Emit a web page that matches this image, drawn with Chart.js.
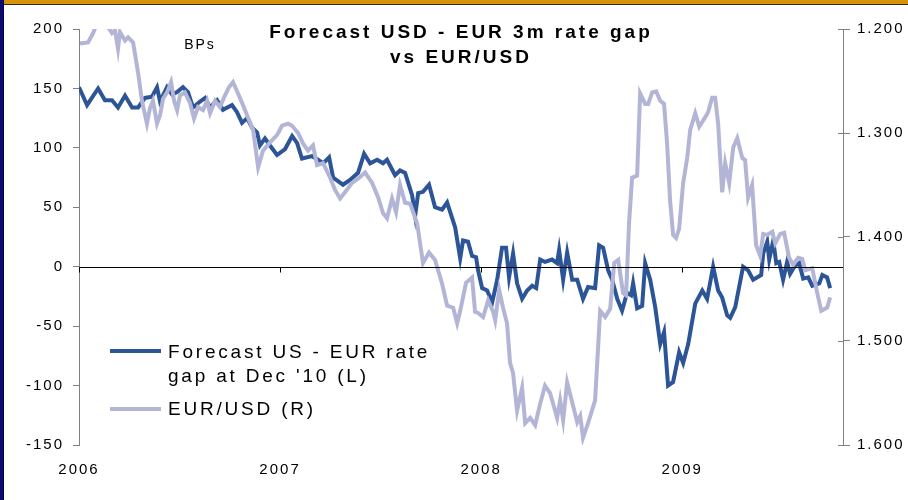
<!DOCTYPE html>
<html>
<head>
<meta charset="utf-8">
<script src="https://cdn.jsdelivr.net/npm/chart.js@4/dist/chart.umd.min.js"></script>
<style>
  html, body { margin: 0; padding: 0; background: #fff; }
  #wrap { position: relative; width: 908px; height: 500px; overflow: hidden; }
  #topbar { position: absolute; left: 0; top: 0; width: 908px; height: 4px; background: #D8920E; border-bottom: 1px solid #3a2a10; }
  #leftbar { position: absolute; left: 0; top: 0; width: 3px; height: 500px; background: #0B0B78; border-right: 1px solid #05053a; }
</style>
</head>
<body>
<div id="wrap">
  <canvas id="chart" width="908" height="500"></canvas>
  <div id="topbar"></div>
  <div id="leftbar"></div>
</div>
<script>
// forecast US - EUR rate gap at Dec '10, bps (left axis)
const gapDates = [2006.000, 2006.040, 2006.095, 2006.129, 2006.164, 2006.194, 2006.229, 2006.264, 2006.294, 2006.328,
  2006.363, 2006.388, 2006.403, 2006.438, 2006.463, 2006.488, 2006.517, 2006.542, 2006.567, 2006.602,
  2006.627, 2006.652, 2006.687, 2006.716, 2006.761, 2006.786, 2006.811, 2006.836, 2006.861, 2006.886,
  2006.900, 2006.925, 2006.950, 2006.985, 2007.025, 2007.060, 2007.085, 2007.109, 2007.159, 2007.189,
  2007.214, 2007.244, 2007.264, 2007.313, 2007.348, 2007.388, 2007.418, 2007.448, 2007.483, 2007.512,
  2007.532, 2007.572, 2007.597, 2007.622, 2007.657, 2007.672, 2007.687, 2007.711, 2007.741, 2007.771,
  2007.806, 2007.831, 2007.871, 2007.896, 2007.910, 2007.935, 2007.955, 2007.975, 2007.985, 2008.005,
  2008.030, 2008.055, 2008.080, 2008.104, 2008.124, 2008.139, 2008.159, 2008.179, 2008.204, 2008.229,
  2008.254, 2008.274, 2008.294, 2008.318, 2008.353, 2008.378, 2008.388, 2008.408, 2008.428, 2008.453,
  2008.478, 2008.507, 2008.532, 2008.567, 2008.587, 2008.607, 2008.632, 2008.652, 2008.677, 2008.701,
  2008.726, 2008.746, 2008.756, 2008.776, 2008.801, 2008.816, 2008.841, 2008.866, 2008.891, 2008.910,
  2008.930, 2008.955, 2008.985, 2009.005, 2009.030, 2009.065, 2009.100, 2009.124, 2009.154, 2009.179,
  2009.199, 2009.224, 2009.239, 2009.264, 2009.303, 2009.328, 2009.353, 2009.393, 2009.403, 2009.423,
  2009.433, 2009.453, 2009.468, 2009.483, 2009.502, 2009.522, 2009.537, 2009.562, 2009.582, 2009.602,
  2009.627, 2009.647, 2009.682, 2009.697, 2009.721, 2009.736];
const gapValues = [151, 136, 150, 140, 140, 134, 144, 134, 134, 142,
  143, 151, 139, 151, 145, 147, 151, 147, 134, 139,
  142, 134, 140, 132, 136, 130, 121, 125, 117, 113,
  102, 108, 102, 94, 99, 110, 104, 91, 93, 90,
  87, 92, 75, 69, 73, 79, 95, 87, 90, 87,
  90, 77, 81, 79, 60, 43, 62, 63, 69, 50,
  48, 54, 33, 7, 22, 21, 9, 8, -3, -18,
  -20, -30, -11, 16, 16, -9, 11, -14, -27, -20,
  -16, -18, 6, 4, 6, 3, 14, -11, 12, -11,
  -11, -27, -17, -18, 18, 16, -3, -11, -27, -37,
  -22, -24, -14, -35, -33, 3, -11, -34, -65, -55,
  -100, -97, -72, -81, -65, -31, -20, -27, 0, -20,
  -26, -41, -43, -34, 0, -3, -11, -7, 11, 21,
  6, 22, 3, 4, -11, 4, -6, 1, 3, -10,
  -9, -16, -14, -7, -9, -18];

// EUR/USD (right axis, inverted)
const fxDates = [2006.005, 2006.045, 2006.070, 2006.095, 2006.119, 2006.144, 2006.164, 2006.179, 2006.194, 2006.204,
  2006.229, 2006.244, 2006.269, 2006.294, 2006.313, 2006.338, 2006.353, 2006.368, 2006.388, 2006.403,
  2006.418, 2006.438, 2006.458, 2006.473, 2006.488, 2006.502, 2006.527, 2006.552, 2006.572, 2006.592,
  2006.617, 2006.637, 2006.652, 2006.677, 2006.701, 2006.721, 2006.746, 2006.766, 2006.791, 2006.811,
  2006.836, 2006.866, 2006.891, 2006.915, 2006.950, 2006.985, 2007.010, 2007.040, 2007.060, 2007.090,
  2007.114, 2007.139, 2007.164, 2007.184, 2007.214, 2007.249, 2007.274, 2007.299, 2007.323, 2007.358,
  2007.388, 2007.423, 2007.458, 2007.488, 2007.512, 2007.532, 2007.557, 2007.577, 2007.597, 2007.622,
  2007.647, 2007.682, 2007.711, 2007.741, 2007.771, 2007.806, 2007.831, 2007.861, 2007.881, 2007.896,
  2007.925, 2007.955, 2007.970, 2007.985, 2008.010, 2008.035, 2008.060, 2008.070, 2008.090, 2008.109,
  2008.129, 2008.144, 2008.159, 2008.179, 2008.204, 2008.219, 2008.244, 2008.269, 2008.294, 2008.318,
  2008.343, 2008.378, 2008.393, 2008.408, 2008.428, 2008.453, 2008.478, 2008.493, 2008.507, 2008.532,
  2008.567, 2008.592, 2008.617, 2008.642, 2008.662, 2008.682, 2008.706, 2008.721, 2008.736, 2008.751,
  2008.776, 2008.791, 2008.816, 2008.831, 2008.851, 2008.871, 2008.891, 2008.910, 2008.925, 2008.940,
  2008.955, 2008.970, 2008.985, 2009.005, 2009.025, 2009.040, 2009.065, 2009.085, 2009.114, 2009.129,
  2009.149, 2009.164, 2009.179, 2009.199, 2009.214, 2009.234, 2009.254, 2009.274, 2009.299, 2009.313,
  2009.328, 2009.348, 2009.368, 2009.388, 2009.403, 2009.423, 2009.448, 2009.463, 2009.488, 2009.507,
  2009.532, 2009.552, 2009.577, 2009.597, 2009.612, 2009.647, 2009.672, 2009.692, 2009.721, 2009.736];
const fxValues = [1.214, 1.213, 1.204, 1.192, 1.187, 1.198, 1.204, 1.201, 1.219, 1.203,
  1.211, 1.208, 1.213, 1.242, 1.269, 1.291, 1.276, 1.269, 1.291, 1.283,
  1.267, 1.261, 1.251, 1.269, 1.278, 1.264, 1.261, 1.271, 1.286, 1.275,
  1.278, 1.269, 1.281, 1.269, 1.275, 1.266, 1.256, 1.251, 1.262, 1.271,
  1.283, 1.297, 1.333, 1.317, 1.309, 1.302, 1.293, 1.291, 1.293, 1.300,
  1.310, 1.317, 1.312, 1.331, 1.329, 1.343, 1.355, 1.363, 1.357, 1.348,
  1.344, 1.338, 1.348, 1.362, 1.377, 1.382, 1.363, 1.376, 1.350, 1.367,
  1.368, 1.387, 1.425, 1.415, 1.422, 1.445, 1.466, 1.468, 1.483, 1.471,
  1.444, 1.439, 1.472, 1.473, 1.477, 1.461, 1.472, 1.480, 1.451, 1.468,
  1.483, 1.521, 1.531, 1.567, 1.545, 1.579, 1.574, 1.581, 1.560, 1.543,
  1.550, 1.574, 1.557, 1.576, 1.540, 1.559, 1.578, 1.572, 1.593, 1.579,
  1.557, 1.471, 1.477, 1.469, 1.425, 1.422, 1.454, 1.456, 1.386, 1.343,
  1.341, 1.262, 1.272, 1.272, 1.261, 1.260, 1.269, 1.272, 1.310, 1.365,
  1.398, 1.401, 1.392, 1.348, 1.324, 1.297, 1.281, 1.294, 1.285, 1.280,
  1.266, 1.266, 1.291, 1.357, 1.329, 1.348, 1.314, 1.305, 1.324, 1.326,
  1.362, 1.350, 1.408, 1.418, 1.397, 1.398, 1.395, 1.406, 1.397, 1.396,
  1.420, 1.427, 1.420, 1.421, 1.432, 1.430, 1.454, 1.471, 1.468, 1.458];

const yearTicks = [2006, 2007, 2008, 2009];
const leftTicks = [200, 150, 100, 50, 0, -50, -100, -150];
const rightTicks = [1.2, 1.3, 1.4, 1.5, 1.6];

const darkBlue = "#2C5598";
const lilac = "#B3B5D6";
const axisGrey = "#808080";
const font = "'Liberation Sans', Arial, sans-serif";

// left scale: 200 at top, -150 at bottom; right scale inverted 1.2 .. 1.6
const overlay = {
  id: "overlay",
  beforeDraw(chart) {
    chart.ctx.letterSpacing = "2px";
  },
  afterDatasetsDraw(chart) {
    const { ctx, chartArea, scales } = chart;
    ctx.save();
    // zero line with year marks
    const y0 = Math.round(scales.y.getPixelForValue(0)) + 0.5;
    ctx.strokeStyle = "#000";
    ctx.lineWidth = 1;
    ctx.beginPath();
    ctx.moveTo(chartArea.left, y0);
    ctx.lineTo(chartArea.right, y0);
    yearTicks.forEach((yr) => {
      const x = Math.round(scales.x.getPixelForValue(yr)) + 0.5;
      ctx.moveTo(x, y0);
      ctx.lineTo(x, y0 + 5);
    });
    ctx.stroke();
    // inner half of the right axis ticks
    ctx.strokeStyle = axisGrey;
    ctx.beginPath();
    rightTicks.forEach((v) => {
      const y = Math.round(scales.y1.getPixelForValue(v)) + 0.5;
      ctx.moveTo(chartArea.right - 5, y);
      ctx.lineTo(chartArea.right, y);
    });
    ctx.stroke();

    // title
    ctx.fillStyle = "#000";
    ctx.textAlign = "center";
    ctx.textBaseline = "middle";
    ctx.font = "bold 19px " + font;
    ctx.letterSpacing = "3px";
    ctx.fillText("Forecast USD - EUR 3m rate gap", 461, 33);
    ctx.fillText("vs EUR/USD", 461, 58);

    ctx.font = "14px " + font;
    ctx.letterSpacing = "2px";
    ctx.fillText("BPs", 200, 45);

    // legend
    ctx.textAlign = "left";
    ctx.font = "19px " + font;
    ctx.letterSpacing = "2.8px";
    ctx.lineWidth = 4;
    ctx.strokeStyle = darkBlue;
    ctx.beginPath();
    ctx.moveTo(110, 351);
    ctx.lineTo(161, 351);
    ctx.stroke();
    ctx.strokeStyle = lilac;
    ctx.beginPath();
    ctx.moveTo(110, 409);
    ctx.lineTo(161, 409);
    ctx.stroke();
    ctx.fillText("Forecast US - EUR rate", 168, 353);
    ctx.fillText("gap at Dec '10 (L)", 168, 377);
    ctx.fillText("EUR/USD (R)", 168, 410);
    ctx.restore();
  },
};

new Chart(document.getElementById("chart"), {
  type: "line",
  data: {
    datasets: [
      {
        label: "EUR/USD (R)",
        data: fxDates.map((d, i) => ({ x: d, y: fxValues[i] })),
        yAxisID: "y1",
        borderColor: lilac,
        borderWidth: 4,
        pointRadius: 0,
        tension: 0,
      },
      {
        label: "Forecast US - EUR rate gap at Dec '10 (L)",
        data: gapDates.map((d, i) => ({ x: d, y: gapValues[i] })),
        yAxisID: "y",
        borderColor: darkBlue,
        borderWidth: 4,
        pointRadius: 0,
        tension: 0,
      },
    ],
  },
  options: {
    responsive: false,
    animation: false,
    layout: { padding: { top: 29, left: 0, right: 0, bottom: 0 } },
    plugins: { legend: { display: false }, title: { display: false }, tooltip: { enabled: false } },
    scales: {
      x: {
        type: "linear",
        min: 2006,
        max: 2009.8,
        grid: { display: false, drawTicks: false },
        border: { display: false },
        afterBuildTicks: (s) => { s.ticks = yearTicks.map((v) => ({ value: v })); },
        ticks: {
          padding: 16,
          color: "#000",
          font: { family: font, size: 15 },
          callback: (v) => String(v),
        },
        afterFit: (s) => { s.height = 55; },
      },
      y: {
        position: "left",
        min: -150,
        max: 200,
        afterBuildTicks: (s) => { s.ticks = leftTicks.map((v) => ({ value: v })); },
        grid: { drawOnChartArea: false, drawTicks: true, tickLength: 6, color: axisGrey },
        border: { color: axisGrey },
        ticks: { padding: 9, color: "#000", font: { family: font, size: 15 } },
        afterFit: (s) => { s.width = 79; },
      },
      y1: {
        position: "right",
        reverse: true,
        min: 1.2,
        max: 1.6,
        afterBuildTicks: (s) => { s.ticks = rightTicks.map((v) => ({ value: v })); },
        grid: { drawOnChartArea: false, drawTicks: true, tickLength: 7, color: axisGrey },
        border: { color: axisGrey },
        ticks: {
          padding: 7,
          color: "#000",
          font: { family: font, size: 15 },
          callback: (v) => v.toFixed(3),
        },
        afterFit: (s) => { s.width = 65; },
      },
    },
  },
  plugins: [overlay],
});
</script>
</body>
</html>
